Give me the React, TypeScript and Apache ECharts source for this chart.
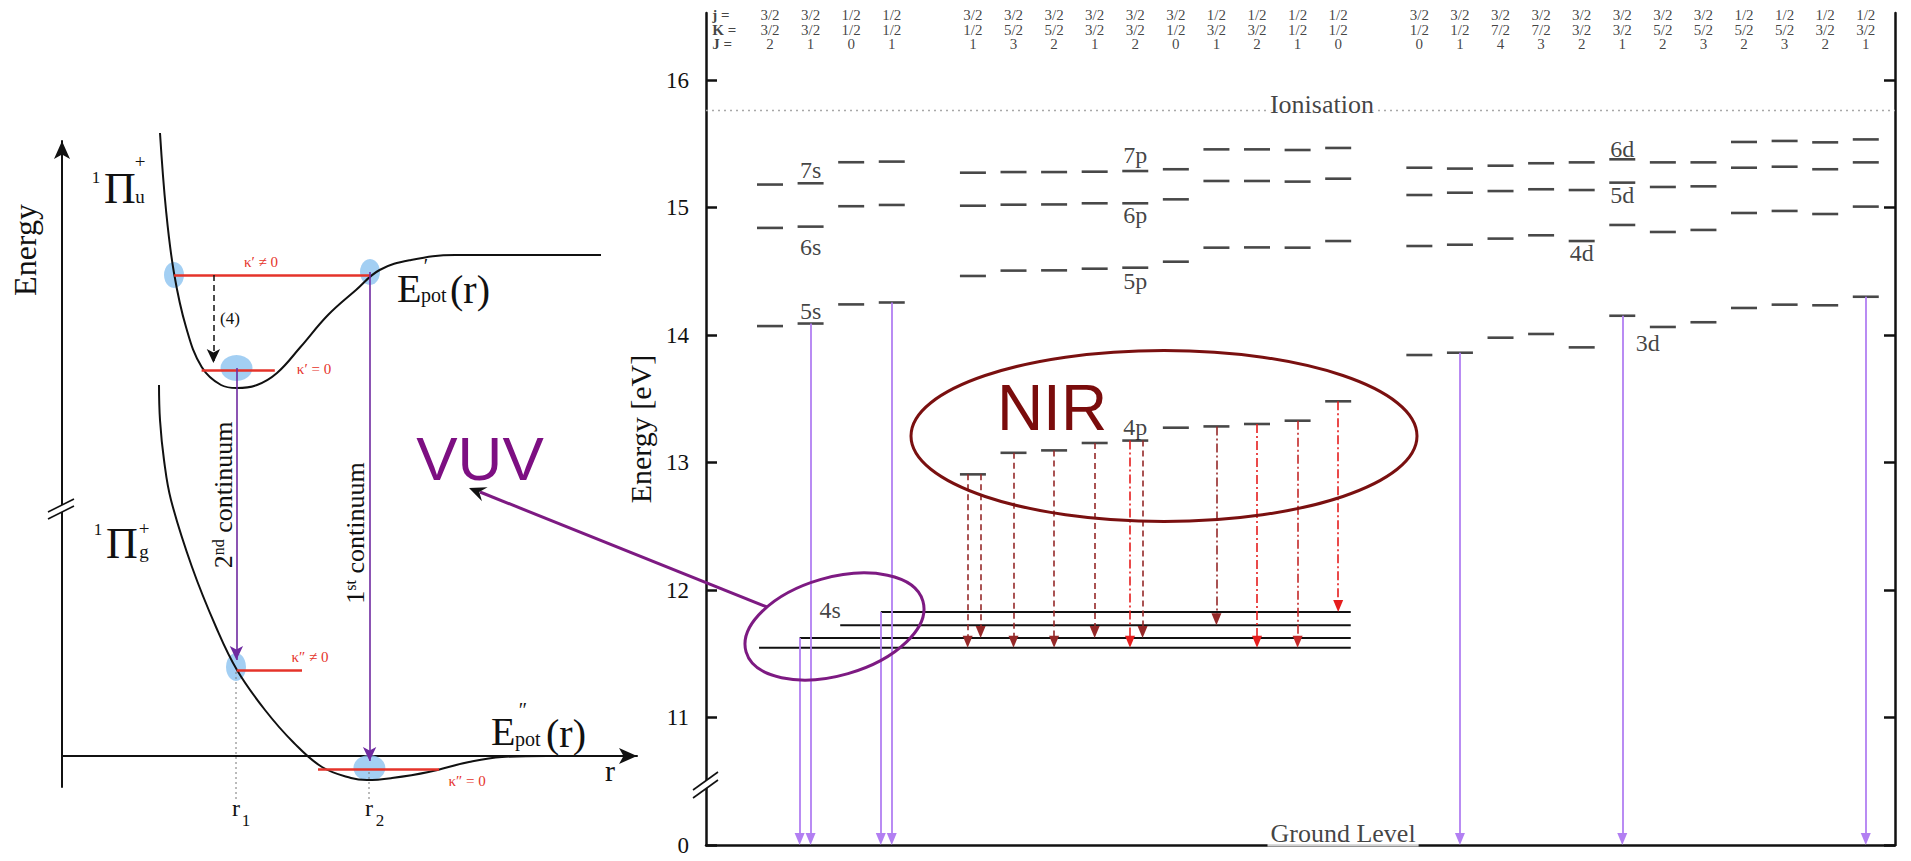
import React, { useEffect, useRef } from 'react';
import * as echarts from 'echarts';

const SERIF = '"Liberation Serif", "Times New Roman", "DejaVu Serif", serif';
const SANS = '"Liberation Sans", Arial, "DejaVu Sans", sans-serif';

// ---------------- right panel : argon level scheme ----------------
const sCols = [0, 1, 2, 3];
const pCols = [5, 6, 7, 8, 9, 10, 11, 12, 13, 14];
const dCols = [16, 17, 18, 19, 20, 21, 22, 23, 24, 25, 26, 27];
const colPos = [...sCols, ...pCols, ...dCols];

const jRow = ['3/2', '3/2', '1/2', '1/2', '3/2', '3/2', '3/2', '3/2', '3/2', '3/2', '1/2', '1/2', '1/2', '1/2', '3/2', '3/2', '3/2', '3/2', '3/2', '3/2', '3/2', '3/2', '1/2', '1/2', '1/2', '1/2'];
const KRow = ['3/2', '3/2', '1/2', '1/2', '1/2', '5/2', '5/2', '3/2', '3/2', '1/2', '3/2', '3/2', '1/2', '1/2', '1/2', '1/2', '7/2', '7/2', '3/2', '3/2', '5/2', '5/2', '5/2', '5/2', '3/2', '3/2'];
const JRow = ['2', '1', '0', '1', '1', '3', '2', '1', '2', '0', '1', '2', '1', '0', '0', '1', '4', '3', '2', '1', '2', '3', '2', '3', '2', '1'];
const rowNames = ['j =', 'K =', 'J ='];
const rowEnergy = [16.51, 16.396, 16.282];

// energy tick values (10 = drawn position of the 0 eV ground level)
const energyTicks = [10, 11, 12, 13, 14, 15, 16];

// energies in eV
const level4s = [11.548, 11.624, 11.723, 11.828];
const level5s = [14.07, 14.09, 14.24, 14.255];
const level6s = [14.84, 14.85, 15.01, 15.02];
const level7s = [15.18, 15.19, 15.355, 15.36];

const level4p = [12.907, 13.076, 13.095, 13.153, 13.172, 13.273, 13.283, 13.302, 13.328, 13.48];
const level5p = [14.463, 14.505, 14.507, 14.52, 14.528, 14.575, 14.685, 14.687, 14.685, 14.737];
const level6p = [15.014, 15.022, 15.024, 15.033, 15.033, 15.064, 15.208, 15.208, 15.203, 15.226];
const level7p = [15.273, 15.278, 15.278, 15.281, 15.286, 15.3, 15.456, 15.456, 15.451, 15.467];

const level3d = [13.843, 13.861, 13.979, 14.008, 13.903, 14.151, 14.063, 14.1, 14.212, 14.238, 14.233, 14.3];
const level4d = [14.698, 14.708, 14.756, 14.782, 14.737, 14.863, 14.808, 14.824, 14.957, 14.973, 14.949, 15.007];
const level5d = [15.098, 15.116, 15.129, 15.143, 15.137, 15.195, 15.161, 15.166, 15.312, 15.32, 15.3, 15.354];
const level6d = [15.312, 15.305, 15.328, 15.347, 15.354, 15.378, 15.354, 15.354, 15.514, 15.522, 15.511, 15.534];

const ionisation = 15.76;
const groundEnergy = 0;
const fourSStartOffset = 0.27;
const fourSEnd = 14.31;

const levelNames = ['7s', '6s', '5s', '4s', '7p', '6p', '5p', '4p', '6d', '5d', '4d', '3d'];
const levelNameX = [1, 1, 1, 1.48, 9, 9, 9, 9, 21, 21, 20, 21.63];
const levelNameE = [15.298, 14.69, 14.192, 11.843, 15.41, 14.94, 14.42, 13.28, 15.459, 15.098, 14.643, 13.941];

// NIR transitions 4p -> 4s
const nirX = [4.87, 5.19, 6, 7, 8, 8.87, 9.18, 11, 12, 13, 14];
const nirFrom = [12.907, 12.907, 13.076, 13.095, 13.153, 13.172, 13.172, 13.283, 13.302, 13.328, 13.48];
const nirTo = [11.548, 11.624, 11.548, 11.548, 11.624, 11.548, 11.624, 11.723, 11.548, 11.548, 11.828];
const nirDashDot = [false, false, false, false, false, true, false, true, true, true, true];
const nirTone = ['dark', 'dark', 'dark', 'dark', 'dark', 'bright', 'dark', 'dark', 'bright', 'mid', 'bright'];

// VUV transitions to ground level
const vuvX = [0.73, 1, 2.73, 3, 17, 21, 27];
const vuvFrom = [11.624, 14.09, 11.828, 14.255, 13.861, 14.151, 14.3];

// ---------------- left panel : potential curves (r, E in drawing units) ----------------
const upperR = [98, 104, 112, 124, 139.7, 159, 175, 195, 215, 238.5, 266, 294, 317.6, 349, 393, 539];
const upperE = [623, 546, 483, 429, 389, 371, 368, 371, 383, 409, 441, 466, 486, 496, 501, 501];
const lowerR = [97, 98, 102, 109, 130, 154, 175, 203, 232, 260, 289, 305, 330, 366.6, 407, 440, 485];
const lowerE = [371, 336, 296, 256, 189, 129, 86, 46, 13, -11, -22, -24, -22, -16, -6, -1, 0];

const kappaFromR = [112, 139.6, 174.7, 256];
const kappaToR = [308, 212.8, 240, 377];
const kappaE = [481, 386, 85.3, -13];

const blobR = [112, 308, 174.5, 174, 307.4];
const blobE = [481, 484, 388, 89, -12];
const blobW = [20, 20, 32, 20, 32];
const blobH = [26, 26, 26, 28, 26];

// broken energy axis: ground level (0 eV) is drawn at axis position 10
const axisE = (e: number) => (e < 5 ? e + 10 : e);
const HEAD_E = 6 / 127.5;

const TONES: Record<string, string> = { dark: '#952828', mid: '#c42828', bright: '#e51d1d' };
const VIOLET = '#b27ff2';

function App() {
  const ref = useRef<HTMLDivElement>(null);
  useEffect(() => {
    if (!ref.current) return;
    const chart = echarts.init(ref.current, undefined, { renderer: 'svg' });

    const dash = (cols: number[], vals: number[]) => cols.map((c, i) => [c, vals[i]]);
    const levelPoints = [
      ...dash(sCols, level5s), ...dash(sCols, level6s), ...dash(sCols, level7s),
      ...dash(pCols, level4p), ...dash(pCols, level5p), ...dash(pCols, level6p), ...dash(pCols, level7p),
      ...dash(dCols, level3d), ...dash(dCols, level4d), ...dash(dCols, level5d), ...dash(dCols, level6d),
    ];

    const headerData: any[] = [];
    [jRow, KRow, JRow].forEach((row, r) => {
      row.forEach((v, c) => headerData.push({ name: v, value: [colPos[c], rowEnergy[r]] }));
    });
    const headerNames = rowNames.map((n, r) => ({ name: n, value: [-1.42, rowEnergy[r]] }));

    const nirLines = nirX.map((x, i) => [
      {
        coord: [x, nirFrom[i]],
        lineStyle: { color: TONES[nirTone[i]], width: 1.6, type: nirDashDot[i] ? [9, 3, 2, 3] : [6, 4] },
      },
      { coord: [x, nirTo[i] + HEAD_E] },
    ]);
    const vuvLines = vuvX.map((x, i) => [
      { coord: [x, axisE(vuvFrom[i])] },
      { coord: [x, axisE(groundEnergy) + HEAD_E] },
    ]);

    const X_MIN = -1.577;
    const X_MAX = 27.72;
    const Y_MAX = 16.5255;

    const txt = (x: number, y: number, text: string, fontSize: number, o: any = {}) => ({
      type: 'text',
      x,
      y,
      rotation: o.rotation || 0,
      z: 60,
      silent: true,
      style: {
        text,
        fontSize,
        fontFamily: o.fontFamily || SERIF,
        fill: o.fill || '#111',
        align: o.align || 'center',
        textAlign: o.align || 'center',
        verticalAlign: 'middle',
        textVerticalAlign: 'middle',
        rich: o.rich,
      },
    });

    const RED = '#e5332a';
    const kappa = (x: number, y: number, s: string) => txt(x, y, s, 15, { fill: RED });

    const graphics: any[] = [
      // right panel axis break
      { type: 'polygon', shape: { points: [[693, 790], [718, 772], [718, 780], [693, 798]] }, style: { fill: '#fff' }, z: 55 },
      { type: 'line', shape: { x1: 693, y1: 790, x2: 718, y2: 772 }, style: { stroke: '#111', lineWidth: 1.6 }, z: 56 },
      { type: 'line', shape: { x1: 693, y1: 798, x2: 718, y2: 780 }, style: { stroke: '#111', lineWidth: 1.6 }, z: 56 },
      // left panel axis break
      { type: 'polygon', shape: { points: [[48, 512], [74, 499], [74, 506], [48, 519]] }, style: { fill: '#fff' }, z: 55 },
      { type: 'line', shape: { x1: 48, y1: 512, x2: 74, y2: 499 }, style: { stroke: '#111', lineWidth: 1.6 }, z: 56 },
      { type: 'line', shape: { x1: 48, y1: 519, x2: 74, y2: 506 }, style: { stroke: '#111', lineWidth: 1.6 }, z: 56 },
      // NIR ellipse and label
      { type: 'ellipse', shape: { cx: 1164, cy: 436, rx: 253, ry: 85.5 }, style: { fill: 'none', stroke: '#7a1010', lineWidth: 3 }, z: 40, silent: true },
      txt(1052, 408, 'NIR', 64, { fontFamily: SANS, fill: '#7a0c0c' }),
      // VUV ellipse, arrow and label
      { type: 'ellipse', x: 834.5, y: 626.5, rotation: (16 * Math.PI) / 180, shape: { cx: 0, cy: 0, rx: 92, ry: 49 }, style: { fill: 'none', stroke: '#7d1a82', lineWidth: 3 }, z: 40, silent: true },
      { type: 'line', shape: { x1: 767, y1: 607, x2: 480, y2: 492 }, style: { stroke: '#7d1a82', lineWidth: 3 }, z: 40 },
      { type: 'polygon', shape: { points: [[469, 488], [487.6, 487.3], [479.2, 492.1], [482, 501.3]] }, style: { fill: '#111' }, z: 41 },
      txt(480, 458, 'VUV', 62, { fontFamily: SANS, fill: '#7d0f82' }),
      // left panel dotted r markers
      { type: 'line', shape: { x1: 236, y1: 672, x2: 236, y2: 800 }, style: { stroke: '#777', lineWidth: 1, lineDash: [2, 3] }, z: 30 },
      { type: 'line', shape: { x1: 369, y1: 772, x2: 369, y2: 800 }, style: { stroke: '#777', lineWidth: 1, lineDash: [2, 3] }, z: 30 },
      // left panel texts
      txt(25, 250, 'Energy', 32, { rotation: Math.PI / 2 }),
      txt(96, 177, '1', 17), txt(120, 188, 'Π', 44), txt(140, 196, 'u', 19), txt(140, 161, '+', 19),
      txt(98, 529, '1', 17), txt(122, 543, 'Π', 44), txt(144, 551, 'g', 19), txt(144, 528, '+', 19),
      txt(397, 288, 'E', 40, { align: 'left' }), txt(421, 295, 'pot', 20, { align: 'left' }), txt(426, 266, '′', 20), txt(450, 289, '(r)', 40, { align: 'left' }),
      txt(491, 731, 'E', 40, { align: 'left' }), txt(515, 739, 'pot', 20, { align: 'left' }), txt(523, 710, '″', 20), txt(546, 733, '(r)', 40, { align: 'left' }),
      txt(610, 770, 'r', 30),
      txt(236, 808, 'r', 24), txt(246, 820, '1', 17),
      txt(369, 808, 'r', 24), txt(380, 820, '2', 17),
      txt(230, 318, '(4)', 17),
      kappa(261, 262, 'κ′ ≠ 0'), kappa(314, 369, 'κ′ = 0'), kappa(310, 657, 'κ″ ≠ 0'), kappa(467, 781, 'κ″ = 0'),
      txt(223, 495, '{a|2}{b|nd}{a| continuum}', 26, {
        rotation: Math.PI / 2,
        rich: { a: { fontSize: 26, fontFamily: SERIF, verticalAlign: 'bottom' }, b: { fontSize: 16, fontFamily: SERIF, verticalAlign: 'top' } },
      }),
      txt(355, 533, '{a|1}{b|st}{a| continuum}', 26, {
        rotation: Math.PI / 2,
        rich: { a: { fontSize: 26, fontFamily: SERIF, verticalAlign: 'bottom' }, b: { fontSize: 16, fontFamily: SERIF, verticalAlign: 'top' } },
      }),
    ];

    const option: any = {
      animation: false,
      backgroundColor: '#fff',
      grid: [
        { left: 706, right: 16, top: 13, bottom: 16 },
        { left: 62, top: 141, width: 575, height: 646 },
      ],
      xAxis: [
        {
          type: 'value', gridIndex: 0, min: X_MIN, max: X_MAX,
          axisLine: { show: true, onZero: false, lineStyle: { color: '#111', width: 2.5 } },
          axisTick: { show: false }, axisLabel: { show: false }, splitLine: { show: false },
        },
        {
          type: 'value', gridIndex: 1, min: 0, max: 575,
          axisLine: { show: true, onZero: true, symbol: ['none', 'arrow'], symbolSize: [12, 18], lineStyle: { color: '#111', width: 2 } },
          axisTick: { show: false }, axisLabel: { show: false }, splitLine: { show: false },
        },
      ],
      yAxis: [
        {
          type: 'value', gridIndex: 0, position: 'left', min: 10, max: Y_MAX, interval: 1,
          name: 'Energy [eV]', nameLocation: 'middle', nameRotate: 90, nameGap: 46,
          nameTextStyle: { fontFamily: SERIF, fontSize: 30, color: '#111' },
          axisLine: { show: true, onZero: false, lineStyle: { color: '#111', width: 2.5 } },
          axisTick: { show: true, inside: true, length: 11, customValues: energyTicks, lineStyle: { color: '#111', width: 2.5 } },
          axisLabel: {
            customValues: energyTicks,
            fontFamily: SERIF, fontSize: 23, color: '#111', margin: 17,
            formatter: (v: number) => (v === axisE(groundEnergy) ? '0' : Number.isInteger(v) ? String(v) : ''),
          },
          splitLine: { show: false },
        },
        {
          type: 'value', gridIndex: 0, position: 'right', min: 10, max: Y_MAX, interval: 1,
          axisLine: { show: true, onZero: false, lineStyle: { color: '#111', width: 2.5 } },
          axisTick: { show: true, inside: true, length: 11, customValues: energyTicks, lineStyle: { color: '#111', width: 2.5 } },
          axisLabel: { show: false }, splitLine: { show: false },
        },
        {
          type: 'value', gridIndex: 1, min: -31, max: 615,
          axisLine: { show: true, onZero: true, symbol: ['none', 'arrow'], symbolSize: [12, 18], lineStyle: { color: '#111', width: 2 } },
          axisTick: { show: false }, axisLabel: { show: false }, splitLine: { show: false },
        },
      ],
      series: [
        // ionisation limit
        {
          type: 'line', xAxisIndex: 0, yAxisIndex: 0, symbol: 'none', silent: true, z: 1,
          data: [[X_MIN, ionisation], [X_MAX, ionisation]],
          lineStyle: { color: '#a8a8a8', width: 1.5, type: [2, 4] },
        },
        // 4s levels
        ...level4s.map((e, i) => ({
          type: 'line', xAxisIndex: 0, yAxisIndex: 0, symbol: 'none', silent: true, z: 3,
          data: [[sCols[i] - fourSStartOffset, e], [fourSEnd, e]],
          lineStyle: { color: '#111', width: 2 },
        })),
        // excited levels + transitions
        {
          type: 'scatter', xAxisIndex: 0, yAxisIndex: 0, silent: true, z: 4,
          symbol: 'rect', symbolSize: [26, 2.6], itemStyle: { color: '#1a1a1a' },
          data: levelPoints,
          markLine: {
            silent: true, animation: false, symbol: ['none', 'triangle'], symbolSize: [10, 12],
            label: { show: false }, emphasis: { disabled: true },
            lineStyle: { color: VIOLET, width: 1.8, type: 'solid' },
            data: [...vuvLines, ...nirLines],
          },
        },
        // header rows
        {
          type: 'scatter', xAxisIndex: 0, yAxisIndex: 0, silent: true, z: 5,
          symbolSize: 1, itemStyle: { color: 'transparent' },
          data: headerData,
          label: { show: true, position: 'inside', formatter: '{b}', fontFamily: SERIF, fontSize: 15, color: '#111' },
        },
        {
          type: 'scatter', xAxisIndex: 0, yAxisIndex: 0, silent: true, z: 5,
          symbolSize: 1, itemStyle: { color: 'transparent' },
          data: headerNames,
          label: { show: true, position: 'inside', align: 'left', formatter: '{b}', fontFamily: SERIF, fontWeight: 'bold', fontSize: 15, color: '#111' },
        },
        // level names
        {
          type: 'scatter', xAxisIndex: 0, yAxisIndex: 0, silent: true, z: 5,
          symbolSize: 1, itemStyle: { color: 'transparent' },
          data: levelNames.map((n, i) => ({ name: n, value: [levelNameX[i], levelNameE[i]] })),
          label: { show: true, position: 'inside', formatter: '{b}', fontFamily: SERIF, fontSize: 24, color: '#111' },
        },
        // Ionisation / Ground Level texts
        {
          type: 'scatter', xAxisIndex: 0, yAxisIndex: 0, silent: true, z: 6,
          symbolSize: 1, itemStyle: { color: 'transparent' },
          data: [
            { name: 'Ionisation', value: [13.6, 15.81] },
            { name: 'Ground Level', value: [14.12, axisE(groundEnergy) + 0.09] },
          ],
          label: { show: true, position: 'inside', formatter: '{b}', fontFamily: SERIF, fontSize: 26, color: '#111', backgroundColor: '#fff', padding: [0, 3] },
        },
        // left panel: blobs
        {
          type: 'scatter', xAxisIndex: 1, yAxisIndex: 2, silent: true, z: 2,
          symbol: 'circle', itemStyle: { color: '#8cc3f0' },
          data: blobR.map((r, i) => ({ value: [r, blobE[i]], symbolSize: [blobW[i], blobH[i]] })),
        },
        // upper potential curve
        {
          type: 'line', xAxisIndex: 1, yAxisIndex: 2, symbol: 'none', smooth: 0.4, clip: false, silent: true, z: 4,
          data: upperR.map((r, i) => [r, upperE[i]]),
          lineStyle: { color: '#111', width: 2 },
          markLine: {
            silent: true, animation: false, symbol: ['none', 'none'], label: { show: false }, emphasis: { disabled: true },
            lineStyle: { color: RED, width: 2.5, type: 'solid' },
            data: kappaFromR.map((r, i) => [{ coord: [r, kappaE[i]] }, { coord: [kappaToR[i], kappaE[i]] }]),
          },
        },
        // lower potential curve + arrows
        {
          type: 'line', xAxisIndex: 1, yAxisIndex: 2, symbol: 'none', smooth: 0.4, clip: false, silent: true, z: 4,
          data: lowerR.map((r, i) => [r, lowerE[i]]),
          lineStyle: { color: '#111', width: 2 },
          markLine: {
            silent: true, animation: false, symbol: ['none', 'arrow'], symbolSize: [10, 14],
            label: { show: false }, emphasis: { disabled: true },
            data: [
              [{ coord: [151.4, 481], lineStyle: { color: '#111', width: 1.5, type: [6, 4] } }, { coord: [151.4, 386 + 7] }],
              [{ coord: [174.4, 388], lineStyle: { color: '#6f2aa0', width: 1.6, type: 'solid' } }, { coord: [174.4, 89 + 7] }],
              [{ coord: [307.6, 484], lineStyle: { color: '#6f2aa0', width: 1.6, type: 'solid' } }, { coord: [307.6, -12 + 7] }],
            ],
          },
        },
      ],
      graphic: graphics,
    };

    chart.setOption(option);
    return () => chart.dispose();
  }, []);

  return <div ref={ref} style={{ position: 'fixed', left: 0, top: 0, width: 1911, height: 861, background: '#fff' }} />;
}

export default App;
